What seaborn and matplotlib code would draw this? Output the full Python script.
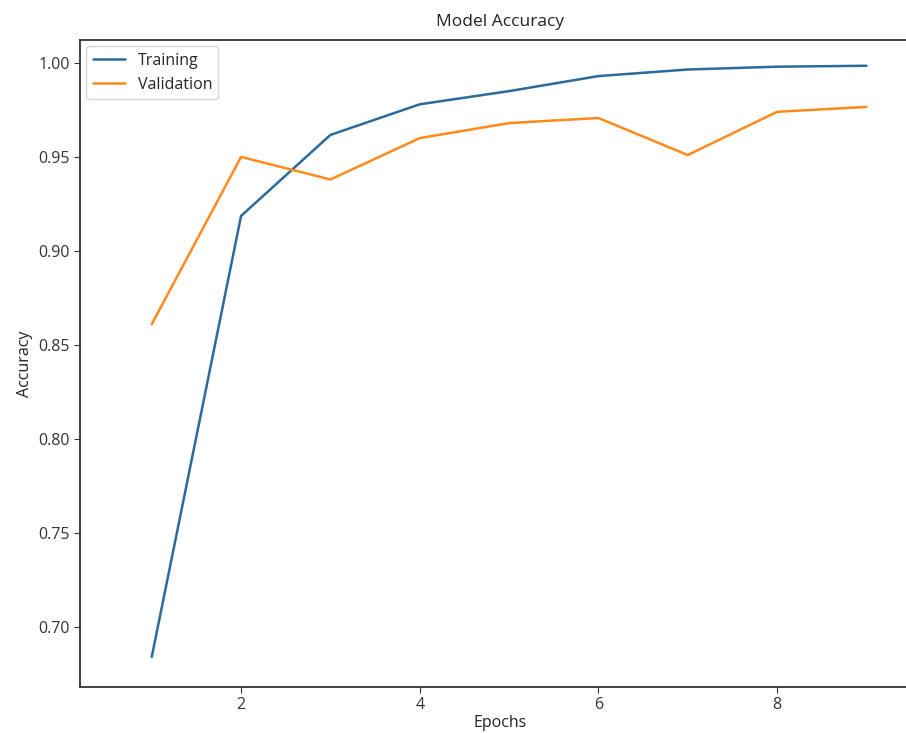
import matplotlib
matplotlib.use("Agg")
import matplotlib.pyplot as plt
import seaborn as sns
import pandas as pd

epochs = [1, 2, 3, 4, 5, 6, 7, 8, 9]
training = [0.684, 0.9186, 0.9617, 0.978, 0.985, 0.993, 0.9965, 0.998, 0.9985]
validation = [0.861, 0.950, 0.938, 0.960, 0.968, 0.9707, 0.951, 0.974, 0.9766]
series_names = ["Training", "Validation"]
colors = ["#2a6a9c", "#ff8a1c"]

sns.set_style("ticks")
plt.rcParams['font.family'] = ['Open Sans', 'DejaVu Sans']

df = pd.DataFrame({
    "Epochs": epochs * 2,
    "Accuracy": training + validation,
    "Series": [series_names[0]] * len(epochs) + [series_names[1]] * len(epochs),
})

fig = plt.figure(figsize=(9.06, 7.33), dpi=100)
ax = fig.add_axes([80 / 906, 46 / 733, 840 / 906, 647 / 733])
sns.lineplot(data=df, x="Epochs", y="Accuracy", hue="Series", palette=colors,
             ax=ax, linewidth=1.8)
ax.set_xlim(0.197, 9.6)
ax.set_ylim(0.668, 1.0122)
ax.set_xticks([2, 4, 6, 8])
ax.set_yticks([0.70, 0.75, 0.80, 0.85, 0.90, 0.95, 1.00])
ax.set_yticklabels([f"{v:.2f}" for v in [0.70, 0.75, 0.80, 0.85, 0.90, 0.95, 1.00]])
ax.tick_params(labelsize=11.5, colors="#333333", length=4)
for s in ax.spines.values():
    s.set_color("#333333")
    s.set_linewidth(1.3)
ax.spines['right'].set_visible(False)
ax.set_title("Model Accuracy", fontsize=12.5, color="#222222", pad=10)
ax.set_xlabel("Epochs", fontsize=11.5, color="#222222", labelpad=1)
ax.set_ylabel("Accuracy", fontsize=11.5, color="#222222")
leg = ax.legend(loc="upper left", fontsize=11.5, title=None, frameon=True,
                borderaxespad=0.4)
leg.get_frame().set_edgecolor("#cccccc")
fig.savefig("out.png", dpi=100)
